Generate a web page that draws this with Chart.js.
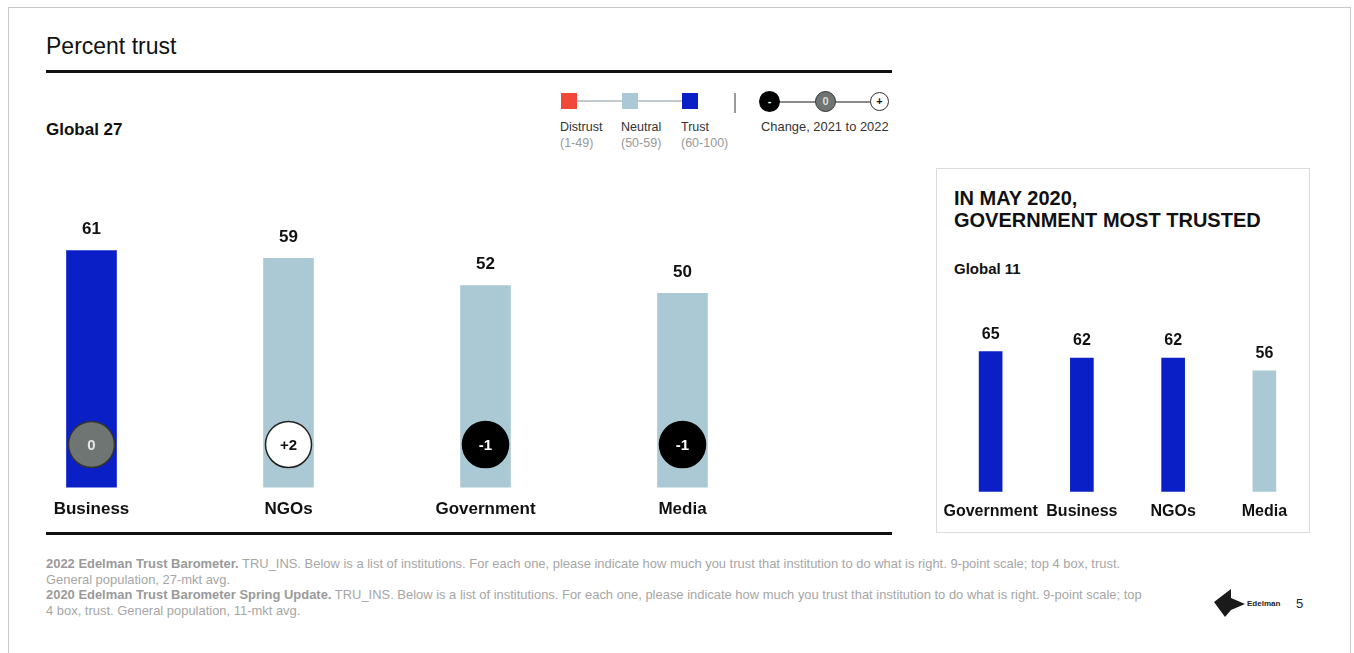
<!DOCTYPE html>
<html>
<head>
<meta charset="utf-8">
<script src="https://cdn.jsdelivr.net/npm/chart.js@4"></script>
<style>
  html, body { margin: 0; padding: 0; background: #fff; }
  body { width: 1354px; height: 653px; position: relative; overflow: hidden;
         font-family: Arial, "Liberation Sans", Helvetica, sans-serif; color: #111; }
  .abs { position: absolute; white-space: nowrap; }
  .frame { position: absolute; left: 8px; top: 7px; width: 1343px; height: 700px;
           border: 1px solid #c9c9c9; box-sizing: border-box; }
  .rule { position: absolute; background: #111; }
  .sq { position: absolute; width: 16px; height: 16px; }
  .lg { font-size: 12.5px; color: #333; line-height: 16px; }
  .lg span { color: #999; }
  .dot { position: absolute; border-radius: 50%; box-sizing: border-box; text-align: center;
         font-weight: bold; font-size: 11px; }
  .note { font-size: 12.95px; color: #a6a6a6; line-height: 15.7px; }
  .note b { color: #9a9a9a; }
  .panel { position: absolute; left: 936px; top: 168px; width: 374px; height: 365px;
           border: 1px solid #dcdcdc; box-sizing: border-box; }
</style>
</head>
<body>
<div class="frame"></div>

<div class="abs" style="left:46px; top:33px; font-size:23px; color:#111;">Percent trust</div>
<div class="rule" style="left:46px; top:70px; width:846px; height:3px;"></div>
<div class="abs" style="left:46px; top:120px; font-size:17px; font-weight:bold;">Global 27</div>

<!-- legend: colour bands -->
<div class="abs" style="left:577px; top:100px; width:106px; height:1.5px; background:#c2cacd;"></div>
<div class="sq" style="left:561px; top:93px; background:#f2483a;"></div>
<div class="sq" style="left:622px; top:93px; background:#abc9d4;"></div>
<div class="sq" style="left:682px; top:93px; background:#0a20c6;"></div>
<div class="abs lg" style="left:560px; top:119px;">Distrust<br><span>(1-49)</span></div>
<div class="abs lg" style="left:621px; top:119px;">Neutral<br><span>(50-59)</span></div>
<div class="abs lg" style="left:681px; top:119px;">Trust<br><span>(60-100)</span></div>
<div class="abs" style="left:734px; top:93px; width:2px; height:20px; background:#9a9a9a;"></div>

<!-- legend: change markers -->
<div class="abs" style="left:770px; top:101px; width:110px; height:1.5px; background:#8a8a8a;"></div>
<div class="dot" style="left:759px; top:91px; width:21px; height:21px; background:#000; color:#fff; line-height:20px;">-</div>
<div class="dot" style="left:815px; top:91px; width:21px; height:21px; background:#6f7572; border:1.5px solid #333; color:#ddd; line-height:18px;">0</div>
<div class="dot" style="left:870px; top:92px; width:19px; height:19px; background:#fff; border:1.5px solid #333; color:#111; line-height:16px;">+</div>
<div class="abs lg" style="left:761px; top:119px; font-size:12.9px;">Change, 2021 to 2022</div>

<div style="position:absolute; left:-7px; top:99px;">
  <canvas id="trustChart" width="788" height="433"></canvas>
</div>
<div class="rule" style="left:46px; top:532px; width:846px; height:2.5px;"></div>

<!-- May 2020 panel -->
<div class="panel"></div>
<div class="abs" style="left:954px; top:187px; font-size:20px; font-weight:bold; line-height:22px;">IN MAY 2020,<br>GOVERNMENT MOST TRUSTED</div>
<div class="abs" style="left:954px; top:260px; font-size:15px; font-weight:bold;">Global 11</div>
<div style="position:absolute; left:925px; top:276px;">
  <canvas id="mayChart" width="405" height="256"></canvas>
</div>

<div class="abs note" style="left:46px; top:556px;">
  <b>2022 Edelman Trust Barometer.</b> TRU_INS. Below is a list of institutions. For each one, please indicate how much you trust that institution to do what is right. 9-point scale; top 4 box, trust.<br>
  General population, 27-mkt avg.<br>
  <b>2020 Edelman Trust Barometer Spring Update.</b> TRU_INS. Below is a list of institutions. For each one, please indicate how much you trust that institution to do what is right. 9-point scale; top<br>
  4 box, trust. General population, 11-mkt avg.
</div>

<svg class="abs" style="left:1214px; top:588px;" width="32" height="30" viewBox="0 0 32 30">
  <polygon points="0,14 17,1 17,10 31,16 17,22 11,29" fill="#1a1a1a"/>
</svg>
<div class="abs" style="left:1247px; top:599px; font-size:8px; font-weight:bold; color:#222;">Edelman</div>
<div class="abs" style="left:1296px; top:596px; font-size:13px; color:#223;">5</div>

<script>
// 2022 Global 27
const institutions = ["Business", "NGOs", "Government", "Media"];
const trust2022 = [61, 59, 52, 50];
const change2022 = [0, 2, -1, -1];

// May 2020 Global 11
const institutions2020 = ["Government", "Business", "NGOs", "Media"];
const trust2020 = [65, 62, 62, 56];

const DISTRUST = "#f2483a", NEUTRAL = "#abc9d4", TRUST = "#0a20c6";
function bandColor(v) {
  if (v >= 60) return TRUST;
  if (v >= 50) return NEUTRAL;
  return DISTRUST;
}

// value printed over each bar
const valueLabels = {
  id: "valueLabels",
  afterDatasetsDraw(chart, args, opts) {
    const ctx = chart.ctx;
    const meta = chart.getDatasetMeta(0);
    ctx.save();
    ctx.font = "bold " + opts.size + "px Arial, 'Liberation Sans', sans-serif";
    ctx.fillStyle = "#111";
    ctx.textAlign = "center";
    ctx.textBaseline = "middle";
    meta.data.forEach((bar, i) => {
      ctx.fillText(chart.data.datasets[0].data[i], bar.x, bar.y - opts.gap);
    });
    ctx.restore();
  }
};

// change badge near the foot of each bar
const changeBadges = {
  id: "changeBadges",
  afterDatasetsDraw(chart, args, opts) {
    if (!opts.values) return;
    const ctx = chart.ctx;
    const meta = chart.getDatasetMeta(0);
    const y0 = chart.scales.y.getPixelForValue(0);
    ctx.save();
    ctx.font = "bold 15px Arial, 'Liberation Sans', sans-serif";
    ctx.textAlign = "center";
    ctx.textBaseline = "middle";
    meta.data.forEach((bar, i) => {
      const d = opts.values[i];
      const cy = y0 - 43;
      let fill = "#000", stroke = "#000", text = "#fff", label = String(d);
      if (d > 0) { fill = "#fff"; stroke = "#222"; text = "#111"; label = "+" + d; }
      if (d === 0) { fill = "#6f7572"; stroke = "#333"; text = "#e6e6e6"; }
      ctx.beginPath();
      ctx.arc(bar.x, cy, 23, 0, Math.PI * 2);
      ctx.fillStyle = fill;
      ctx.fill();
      ctx.lineWidth = 1.5;
      ctx.strokeStyle = stroke;
      ctx.stroke();
      ctx.fillStyle = text;
      ctx.fillText(label, bar.x, cy + 1);
    });
    ctx.restore();
  }
};

function barChart(id, labels, values, thickness, tickSize, tickPad, labelGap, badges, sidePad) {
  return new Chart(document.getElementById(id), {
    type: "bar",
    data: {
      labels: labels,
      datasets: [{
        data: values,
        backgroundColor: values.map(bandColor),
        barThickness: thickness,
        borderWidth: 0
      }]
    },
    options: {
      responsive: false,
      animation: false,
      layout: { padding: { left: sidePad, right: sidePad, top: 0, bottom: 0 } },
      plugins: {
        legend: { display: false },
        tooltip: { enabled: false },
        valueLabels: { size: tickSize, gap: labelGap },
        changeBadges: { values: badges }
      },
      scales: {
        x: {
          grid: { display: false, drawTicks: false },
          border: { display: false },
          ticks: {
            color: "#111",
            padding: tickPad,
            autoSkip: false,
            maxRotation: 0,
            minRotation: 0,
            font: { family: "Arial, 'Liberation Sans', sans-serif", size: tickSize, weight: "bold" }
          }
        },
        y: {
          display: false,
          min: 0,
          max: 100
        }
      }
    },
    plugins: [valueLabels, changeBadges]
  });
}

barChart("trustChart", institutions, trust2022, 50, 17, 12, 21, change2022, 0);
barChart("mayChart", institutions2020, trust2020, 23, 16, 10.5, 17, null, 20);
</script>
</body>
</html>
